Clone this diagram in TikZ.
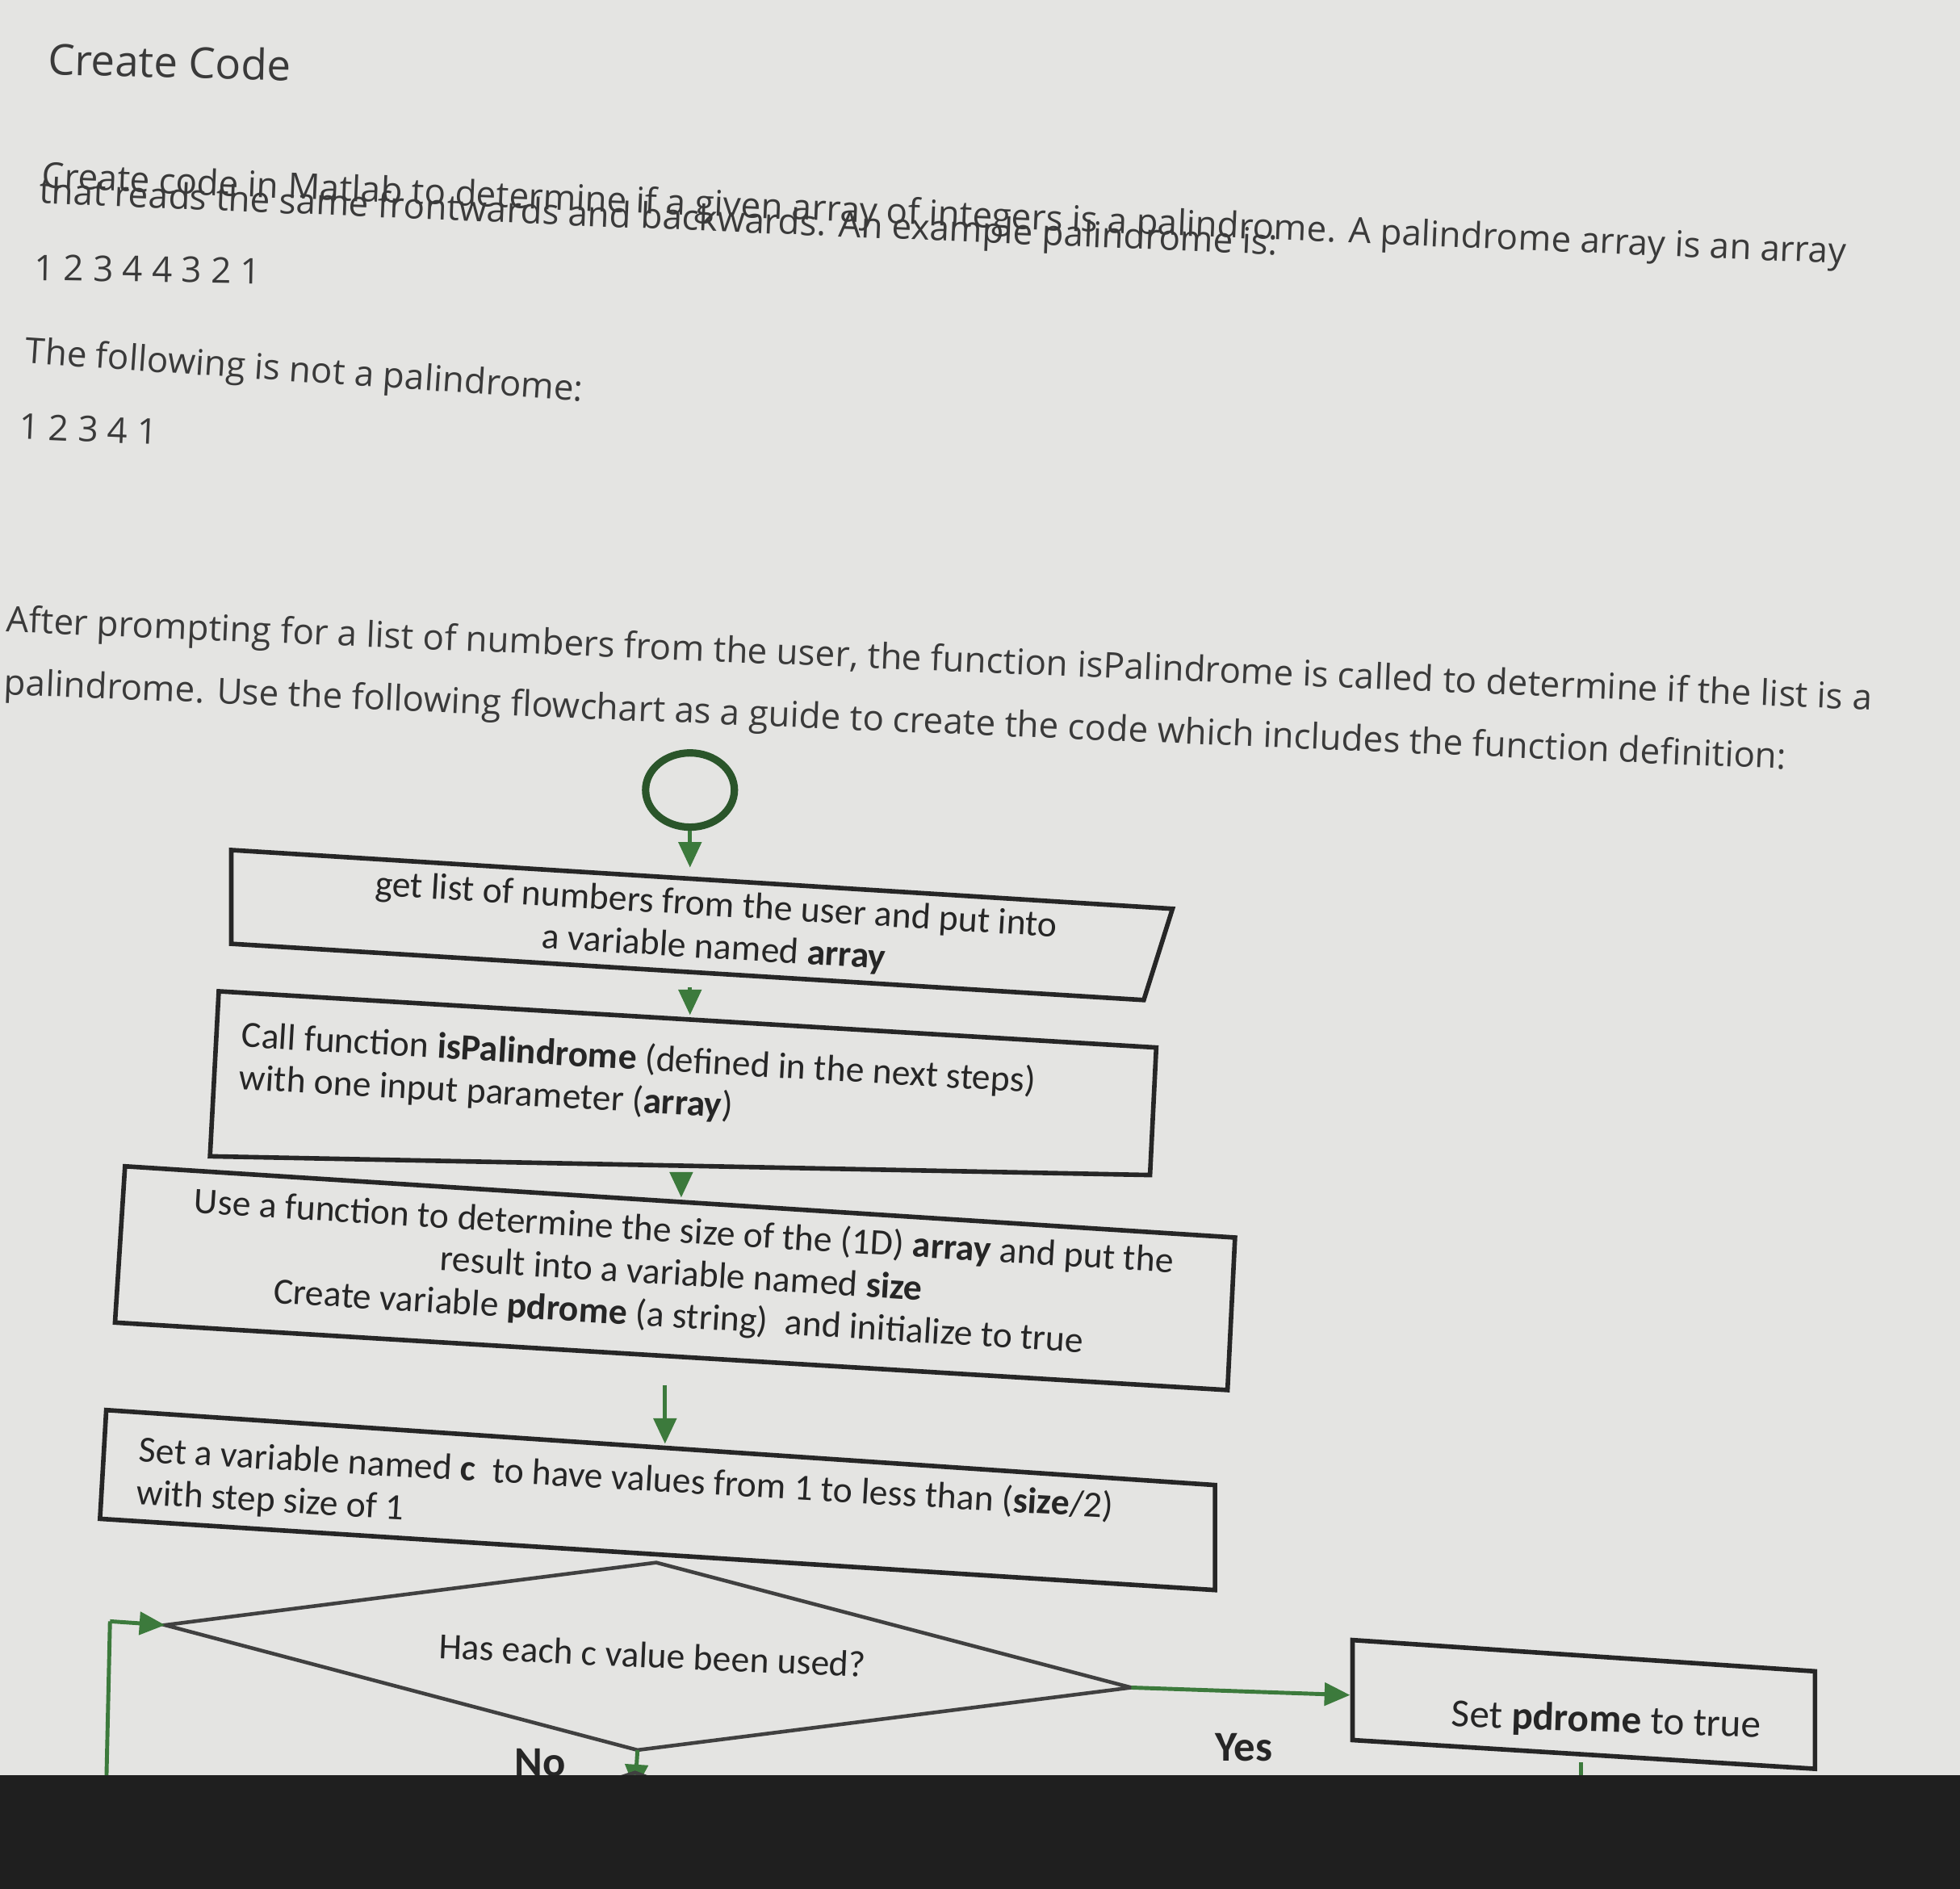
\documentclass[tikz,border=0pt]{standalone}
\usepackage{fontspec}
\setmainfont{Open Sans}
\newfontfamily\boxfont{Carlito}
\usetikzlibrary{arrows.meta,shapes.geometric}
\definecolor{bg}{HTML}{E4E4E2}
\definecolor{gr}{HTML}{3C7A3C}
\definecolor{txt}{HTML}{3A3A3A}
\tikzset{
 fbox/.style={draw=black!85,line width=1.6pt},
 garr/.style={draw=gr,line width=1.4pt,-{Triangle[length=9pt,width=8pt]}},
 gline/.style={draw=gr,line width=1.4pt},
 body/.style={anchor=west,text=txt,font=\fontsize{12.5}{15}\selectfont,inner sep=0,rotate=-2.4},
 btxt/.style={text=black!85,font=\boxfont\fontsize{13}{15}\selectfont,inner sep=0,align=center}
}
\begin{document}
\begin{tikzpicture}[x=0.015485cm,y=-0.015485cm]
\fill[bg] (0,0) rectangle (1568,1511);
\useasboundingbox (0,0) rectangle (1568,1511);
\node[body,font=\fontsize{15}{18}\selectfont,rotate=1] (title) at (38,47) {Create Code};
\node[body] (p1) at (33,143) {Create code in Matlab to determine if a given array of integers is a palindrome. A palindrome array is an array};
\node[body] (p2) at (31,155) {that reads the same frontwards and backwards. An example palindrome is:};
\node[body,rotate=1.5] (ex1) at (27,214) {1 2 3 4 4 3 2 1};
\node[body,rotate=-1.5] (p3) at (20,283) {The following is not a palindrome:};
\node[body,rotate=0] (ex2) at (15,341) {1 2 3 4 1};
\node[body] (p4) at (5,498) {After prompting for a list of numbers from the user, the function isPalindrome is called to determine if the list is a};
\node[body] (p5) at (3,548) {palindrome. Use the following flowchart as a guide to create the code which includes the function definition:};

\node[ellipse,draw=gr!70!black,line width=2.6pt,inner sep=0,minimum width=1.1cm,minimum height=0.92cm] (start) at (552,632) {};

\draw[fbox] (185,680) -- (938,727) -- (915,800) -- (185,755) -- cycle;
\node[btxt,rotate=-3.5] (b1) at (572,742) {get list of numbers from the user and put into\\a variable named \textbf{array}};
\coordinate (b1t) at (552,694); \coordinate (b1b) at (552,790);
\draw[garr] (start.south) -- (b1t);

\draw[fbox] (175,793) -- (925,838) -- (920,940) -- (168,925) -- cycle;
\node[btxt,align=left,anchor=west,rotate=-3.3] (b2) at (192,846) {Call function \textbf{isPalindrome} (defined in the next steps)\\with one input parameter (\textbf{array})};
\coordinate (b2t) at (552,812); \coordinate (b2b) at (545,938);
\draw[garr] (b1b) -- (b2t);

\draw[fbox] (100,933) -- (988,990) -- (982,1112) -- (92,1058) -- cycle;
\node[btxt,rotate=-3.5] (b3) at (545,1020) {Use a function to determine the size of the (1D) \textbf{array} and put the\\result into a variable named \textbf{size}\\Create variable \textbf{pdrome} (a string)\ \ and initialize to true};
\coordinate (b3t) at (545,958); \coordinate (b3b) at (532,1108);
\draw[garr] (b2b) -- (b3t);

\draw[fbox] (85,1128) -- (972,1188) -- (972,1272) -- (80,1215) -- cycle;
\node[btxt,align=left,anchor=west,rotate=-3.3] (b4) at (110,1178) {Set a variable named \textbf{c}\ \ to have values from 1 to less than (\textbf{size}/2)\\with step size of 1};
\coordinate (b4t) at (532,1155);
\draw[garr] (b3b) -- (b4t);

\draw[fbox,line width=1.3pt,draw=black!75] (132,1300) -- (525,1250) -- (905,1350) -- (510,1400) -- cycle;
\node[btxt,rotate=-2.5] (d) at (522,1324) {Has each c value been used?};
\coordinate (dl) at (132,1300); \coordinate (dr) at (905,1350); \coordinate (db) at (510,1400);

\draw[fbox] (1082,1312) -- (1452,1337) -- (1452,1415) -- (1082,1392) -- cycle;
\node[btxt,rotate=-2,font=\boxfont\fontsize{14}{16}\selectfont] (b5) at (1285,1377) {Set \textbf{pdrome} to true};
\coordinate (b5l) at (1080,1356); \coordinate (b5b) at (1265,1410); \coordinate (b5e) at (1265,1511);
\draw[garr] (dr) -- (b5l);
\draw[gline] (b5b) -- (b5e);
\node[btxt,font=\boxfont\bfseries\fontsize{15}{17}\selectfont] (yes) at (995,1398) {Yes};
\node[btxt,font=\boxfont\bfseries\fontsize{15}{17}\selectfont] (no) at (432,1410) {No};

\coordinate (lb) at (85,1430); \coordinate (lt) at (88,1297);
\draw[gline] (lb) -- (lt);
\draw[garr] (lt) -- (dl);
\coordinate (nb) at (508,1432);
\draw[garr] (db) -- (nb);
\draw[black!75,line width=1.3pt] (440,1440) -- (508,1418) -- (580,1445);

\fill[black!88] (0,1420) -- (1568,1420) -- (1568,1511) -- (0,1511) -- cycle;
\end{tikzpicture}
\end{document}
